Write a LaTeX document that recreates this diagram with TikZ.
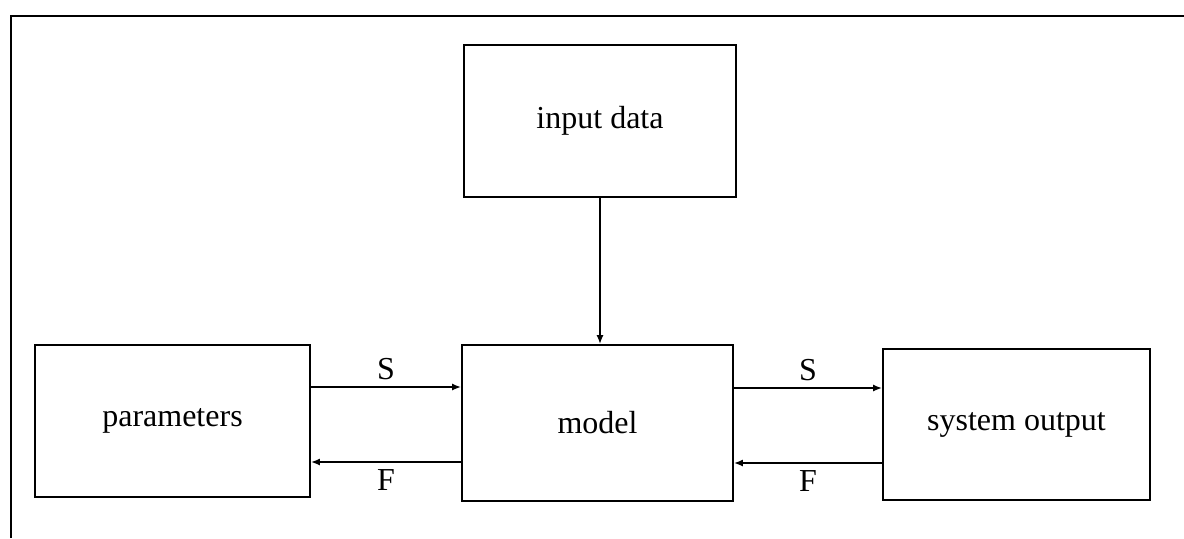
\documentclass[tikz,border=0pt]{standalone}
\usepackage{fontspec}
\setmainfont{Liberation Serif}
\usetikzlibrary{arrows.meta}

\begin{document}
\begin{tikzpicture}[x=.5pt,y=-.5pt,line width=.8pt,
    block/.style={draw,line width=.9pt,font=\fontsize{16}{19}\selectfont},
    flow/.style={-{Latex[length=4.5pt,width=3.5pt]}},
    lbl/.style={font=\fontsize{16}{19}\selectfont}]
  \useasboundingbox (0,0) rectangle (1184,538);
  \draw[line width=1.1pt] (11,538) -- (11,16) -- (1184,16);

  \node[block,minimum width=136pt,minimum height=76pt] (input) at (600,121) {input data};
  \node[block,minimum width=137.5pt,minimum height=76pt] (param) at (172.5,421) {parameters};
  \node[block,minimum width=135.5pt,minimum height=78pt] (model) at (597.5,423) {model};
  \node[block,minimum width=133.5pt,minimum height=75.5pt] (sysout) at (1016.5,424.5) {system output};

  \draw[flow] (input.south) -- (input.south |- model.north);

  \draw[flow] (param.east |- 0,387) -- (model.west |- 0,387)
    node[lbl,midway,above] {S};
  \draw[flow] (model.west |- 0,462) -- (param.east |- 0,462)
    node[lbl,midway,below] {F};
  \draw[flow] (model.east |- 0,388) -- (sysout.west |- 0,388)
    node[lbl,midway,above] {S};
  \draw[flow] (sysout.west |- 0,463) -- (model.east |- 0,463)
    node[lbl,midway,below] {F};
\end{tikzpicture}
\end{document}
